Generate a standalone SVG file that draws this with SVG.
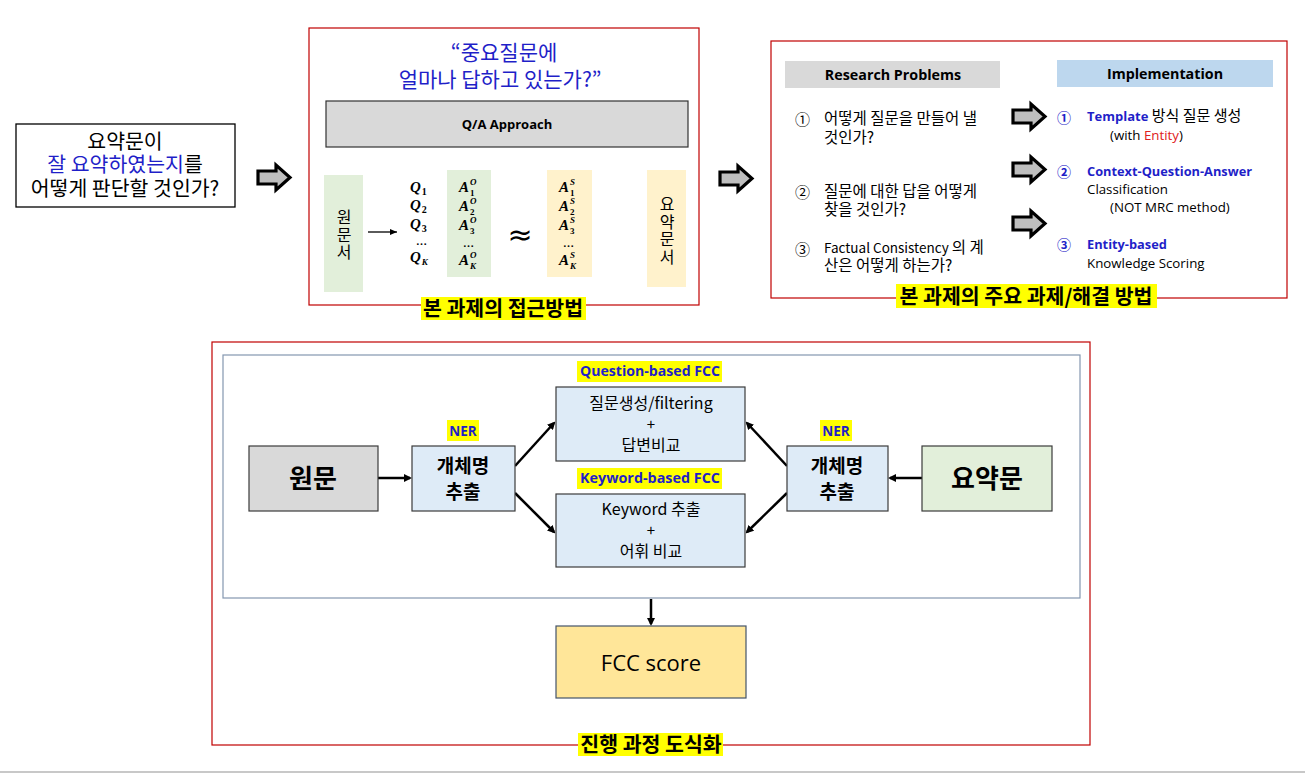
<svg xmlns="http://www.w3.org/2000/svg" width="1305" height="774" viewBox="0 0 1305 774">
<defs>
<style>
.k{font-family:"Noto Sans CJK KR","Noto Sans",sans-serif}
.e{font-family:"Open Sans","Noto Sans CJK KR",sans-serif}
.m{font-family:"Liberation Serif","DejaVu Serif",serif;font-weight:bold;font-style:italic}
.n{font-style:normal}
.red{fill:none;stroke:#c00000;stroke-width:1.2}
.blk{fill:#bfbfbf;stroke:#000;stroke-width:3.2;stroke-linejoin:miter}
.hl{fill:#ffff00}
.lb{font-family:"Noto Sans CJK KR",sans-serif;font-weight:bold;font-size:20.5px;fill:#000;text-anchor:middle}
.node{stroke:#3b3b3b;stroke-width:1.2}
.conn{stroke:#000;stroke-width:2.5;fill:none}
.blue{fill:#1f1fc8}
.vt{writing-mode:vertical-rl;letter-spacing:1.5px}
</style>
<marker id="ah" markerWidth="8" markerHeight="8" refX="6" refY="4" orient="auto" markerUnits="userSpaceOnUse"><path d="M0,0 L8,4 L0,8 Z" fill="#000"/></marker>
<marker id="ah2" markerWidth="7" markerHeight="6" refX="7" refY="3" orient="auto" markerUnits="userSpaceOnUse"><path d="M0,0 L7,3 L0,6 Z" fill="#000"/></marker>
<path id="barrow" d="M0,6 L18,6 L18,0 L32,12.5 L18,25 L18,19 L0,19 Z"/>
</defs>
<rect width="1305" height="774" fill="#fff"/>
<line x1="0" y1="772" x2="1305" y2="772" stroke="#c8c8c8" stroke-width="2"/>

<g id="question-box">
<rect x="16" y="124" width="219" height="83" fill="#fff" stroke="#000" stroke-width="1.3"/>
<text class="k" font-size="20.5" text-anchor="middle"><tspan x="125" y="149">요약문이</tspan><tspan x="125" y="172"><tspan class="blue">잘 요약하였는지</tspan>를</tspan><tspan x="125" y="196">어떻게 판단할 것인가?</tspan></text>
</g>

<g id="arrows-top">
<use href="#barrow" x="258" y="165" class="blk"/>
<use href="#barrow" x="720" y="166" class="blk"/>
<use href="#barrow" x="1013" y="104" class="blk"/>
<use href="#barrow" x="1013" y="157" class="blk"/>
<use href="#barrow" x="1013" y="211" class="blk"/>
</g>

<g id="approach">
<rect x="309" y="28" width="390" height="277" class="red"/>
<text class="k blue" font-size="21" text-anchor="middle"><tspan x="504" y="60">“중요질문에</tspan><tspan x="500" y="87">얼마나 답하고 있는가?”</tspan></text>
<rect x="326" y="101" width="362" height="46" fill="#d9d9d9" stroke="#333" stroke-width="1.2"/>
<text class="e" x="507" y="129" font-size="13" font-weight="bold" text-anchor="middle">Q/A Approach</text>
<rect x="324" y="175" width="39" height="117" fill="#e2efda"/>
<text class="k vt" x="344" y="209" font-size="16">원문서</text>
<line x1="368" y1="232" x2="397" y2="232" stroke="#000" stroke-width="1.3" marker-end="url(#ah2)"/>
<g class="m" font-size="15">
<text x="410" y="192">Q<tspan class="n" font-size="10" dx="1" dy="3">1</tspan></text>
<text x="410" y="210">Q<tspan class="n" font-size="10" dx="1" dy="3">2</tspan></text>
<text x="410" y="229">Q<tspan class="n" font-size="10" dx="1" dy="3">3</tspan></text>
<text x="416" y="245" font-size="11" class="n">…</text>
<text x="410" y="262">Q<tspan font-size="9" dx="1" dy="3">K</tspan></text>
</g>
<rect x="447" y="170" width="44" height="107" fill="#e2efda"/>
<rect x="547" y="170" width="45" height="107" fill="#fff2cc"/>
<g class="m" font-size="15">
<text x="459" y="192">A</text><text x="470" y="185" font-size="9">O</text><text x="470" y="196" font-size="9" class="n">1</text>
<text x="459" y="211">A</text><text x="470" y="204" font-size="9">O</text><text x="470" y="215" font-size="9" class="n">2</text>
<text x="459" y="230">A</text><text x="470" y="223" font-size="9">O</text><text x="470" y="234" font-size="9" class="n">3</text>
<text x="463" y="247" font-size="11" class="n">…</text>
<text x="459" y="265">A</text><text x="470" y="258" font-size="9">O</text><text x="470" y="269" font-size="9">K</text>
<text x="559" y="192">A</text><text x="570" y="185" font-size="9">S</text><text x="570" y="196" font-size="9" class="n">1</text>
<text x="559" y="211">A</text><text x="570" y="204" font-size="9">S</text><text x="570" y="215" font-size="9" class="n">2</text>
<text x="559" y="230">A</text><text x="570" y="223" font-size="9">S</text><text x="570" y="234" font-size="9" class="n">3</text>
<text x="563" y="247" font-size="11" class="n">…</text>
<text x="559" y="265">A</text><text x="570" y="258" font-size="9">S</text><text x="570" y="269" font-size="9">K</text>
</g>
<text x="520" y="245" font-family="DejaVu Sans,sans-serif" font-size="30" text-anchor="middle">≈</text>
<rect x="647" y="170" width="39" height="117" fill="#fff2cc"/>
<text class="k vt" x="667" y="196" font-size="16">요약문서</text>
<rect x="421" y="297" width="165" height="23" class="hl"/>
<text class="lb" x="503" y="316">본 과제의 접근방법</text>
</g>

<g id="problems">
<rect x="771" y="41" width="516" height="257" class="red"/>
<rect x="785" y="61" width="215" height="27" fill="#d9d9d9"/>
<text class="e" x="893" y="80" font-size="14.3" font-weight="bold" text-anchor="middle">Research Problems</text>
<rect x="1057" y="60" width="216" height="27" fill="#bdd7ee"/>
<text class="e" x="1165" y="79" font-size="14.3" font-weight="bold" text-anchor="middle">Implementation</text>
<g class="k" font-size="15.5">
<text x="795" y="125" font-size="15">①</text>
<text><tspan x="824" y="124">어떻게 질문을 만들어 낼</tspan><tspan x="824" y="143">것인가?</tspan></text>
<text x="795" y="198" font-size="15">②</text>
<text><tspan x="824" y="197">질문에 대한 답을 어떻게</tspan><tspan x="824" y="215">찾을 것인가?</tspan></text>
<text x="795" y="255" font-size="15">③</text>
<text><tspan x="824" y="253"><tspan font-size="13.5">Factual Consistency </tspan>의 계</tspan><tspan x="824" y="271">산은 어떻게 하는가?</tspan></text>
</g>
<g class="e" font-size="13.3">
<text class="blue" x="1057" y="123" font-weight="bold" font-size="14">①</text>
<text><tspan x="1087" y="121"><tspan class="blue" font-weight="bold" font-size="13">Template</tspan> <tspan class="k" font-size="15">방식 질문 생성</tspan></tspan><tspan x="1110" y="140">(with <tspan fill="#e02020">Entity</tspan>)</tspan></text>
<text class="blue" x="1057" y="177" font-weight="bold" font-size="14">②</text>
<text><tspan class="blue" x="1087" y="176" font-weight="bold" font-size="12.8">Context-Question-Answer</tspan><tspan x="1087" y="194">Classification</tspan><tspan x="1110" y="212">(NOT MRC method)</tspan></text>
<text class="blue" x="1057" y="250" font-weight="bold" font-size="14">③</text>
<text><tspan class="blue" x="1087" y="249" font-weight="bold" font-size="12.8">Entity-based</tspan><tspan x="1087" y="268">Knowledge Scoring</tspan></text>
</g>
<rect x="896" y="284" width="261" height="24" class="hl"/>
<text class="lb" x="1026" y="304">본 과제의 주요 과제/해결 방법</text>
</g>

<g id="process-frame">
<rect x="212" y="342" width="878" height="403" class="red"/>
<rect x="223" y="355" width="857" height="243" fill="none" stroke="#8497b0" stroke-width="1.2"/>
<rect x="578" y="733" width="145" height="23" class="hl"/>
<text class="lb" x="651" y="752">진행 과정 도식화</text>
</g>

<g id="connectors">
<line x1="378" y1="478" x2="410" y2="478" class="conn" marker-end="url(#ah)"/>
<line x1="922" y1="478" x2="890" y2="478" class="conn" marker-end="url(#ah)"/>
<line x1="515" y1="466" x2="554" y2="423" class="conn" marker-end="url(#ah)"/>
<line x1="515" y1="493" x2="554" y2="532" class="conn" marker-end="url(#ah)"/>
<line x1="787" y1="466" x2="747" y2="423" class="conn" marker-end="url(#ah)"/>
<line x1="787" y1="493" x2="747" y2="532" class="conn" marker-end="url(#ah)"/>
<line x1="651" y1="599" x2="651" y2="624" class="conn" marker-end="url(#ah)"/>
</g>

<g id="node-wonmun">
<rect x="249" y="446" width="129" height="65" fill="#d9d9d9" class="node"/>
<text class="k" x="313" y="488" font-size="26" font-weight="bold" text-anchor="middle">원문</text>
</g>
<g id="node-ner-left">
<rect x="412" y="446" width="103" height="65" fill="#deebf7" class="node"/>
<text class="k" font-size="19" font-weight="bold" text-anchor="middle"><tspan x="463" y="473">개체명</tspan><tspan x="463" y="499">추출</tspan></text>
<rect x="447" y="420" width="32" height="21" class="hl"/>
<text class="e blue" x="463" y="436" font-size="13.5" font-weight="bold" text-anchor="middle">NER</text>
</g>
<g id="node-question">
<rect x="577" y="361" width="145" height="21" class="hl"/>
<text class="e blue" x="650" y="376" font-size="13.5" font-weight="bold" text-anchor="middle" textLength="140" lengthAdjust="spacingAndGlyphs">Question-based FCC</text>
<rect x="556" y="387" width="189" height="74" fill="#deebf7" class="node"/>
<text class="k" font-size="16" text-anchor="middle"><tspan x="651" y="409">질문생성/filtering</tspan><tspan x="651" y="430" font-size="15">+</tspan><tspan x="651" y="451">답변비교</tspan></text>
</g>
<g id="node-keyword">
<rect x="577" y="468" width="145" height="21" class="hl"/>
<text class="e blue" x="650" y="483" font-size="13.5" font-weight="bold" text-anchor="middle" textLength="140" lengthAdjust="spacingAndGlyphs">Keyword-based FCC</text>
<rect x="556" y="494" width="189" height="73" fill="#deebf7" class="node"/>
<text class="k" font-size="16" text-anchor="middle"><tspan x="651" y="515">Keyword 추출</tspan><tspan x="651" y="536" font-size="15">+</tspan><tspan x="651" y="557">어휘 비교</tspan></text>
</g>
<g id="node-ner-right">
<rect x="787" y="446" width="101" height="65" fill="#deebf7" class="node"/>
<text class="k" font-size="19" font-weight="bold" text-anchor="middle"><tspan x="837" y="473">개체명</tspan><tspan x="837" y="499">추출</tspan></text>
<rect x="820" y="420" width="32" height="21" class="hl"/>
<text class="e blue" x="836" y="436" font-size="13.5" font-weight="bold" text-anchor="middle">NER</text>
</g>
<g id="node-yoyakmun">
<rect x="922" y="446" width="130" height="65" fill="#e2efda" class="node"/>
<text class="k" x="987" y="488" font-size="26" font-weight="bold" text-anchor="middle">요약문</text>
</g>
<g id="node-fcc">
<rect x="556" y="626" width="190" height="72" fill="#ffe699" stroke="#44546a" stroke-width="1.2"/>
<text class="e" x="651" y="671" font-size="22" text-anchor="middle">FCC score</text>
</g>
</svg>
